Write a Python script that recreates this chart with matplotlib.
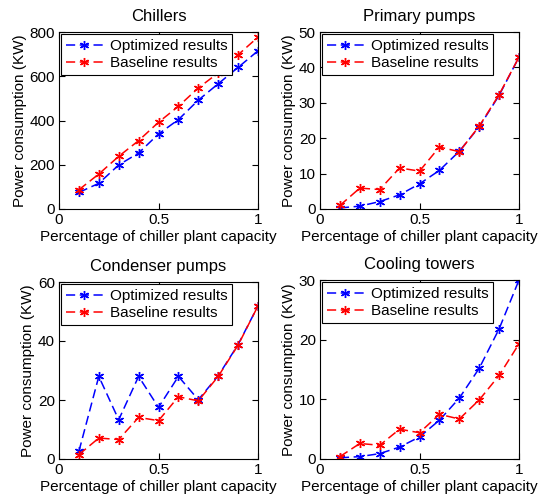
import matplotlib
matplotlib.use("Agg")
import matplotlib.pyplot as plt

plt.rcParams['font.family'] = ['Liberation Sans', 'DejaVu Sans']

x = [0.1, 0.2, 0.3, 0.4, 0.5, 0.6, 0.7, 0.8, 0.9, 1.0]

titles = ["Chillers", "Primary pumps", "Condenser pumps", "Cooling towers"]

chillers_opt = [75, 116, 199, 253, 339, 404, 492, 566, 640, 715]
chillers_base = [87, 158, 238, 309, 392, 464, 547, 615, 697, 777]

primary_opt = [0.3, 0.8, 2.1, 4.0, 7.1, 10.9, 16.3, 23.2, 32.1, 42.9]
primary_base = [1.0, 5.9, 5.5, 11.6, 10.7, 17.5, 16.2, 23.4, 32.3, 42.9]

condenser_opt = [2.6, 28.0, 13.3, 28.0, 17.5, 28.0, 20.1, 28.2, 38.8, 51.9]
condenser_base = [1.5, 7.1, 6.6, 14.1, 13.0, 21.1, 19.7, 28.0, 38.6, 51.9]

tower_opt = [0.2, 0.4, 0.9, 2.0, 3.7, 6.5, 10.2, 15.2, 21.8, 30.0]
tower_base = [0.4, 2.6, 2.3, 5.0, 4.4, 7.5, 6.7, 9.9, 14.0, 19.3]

ylims = [(0, 800), (0, 50), (0, 60), (0, 30)]
yticks = [[0, 200, 400, 600, 800], [0, 10, 20, 30, 40, 50], [0, 20, 40, 60], [0, 10, 20, 30]]
xticks = [0, 0.5, 1]
xticklabels = ["0", "0.5", "1"]

series = [(chillers_opt, chillers_base), (primary_opt, primary_base),
          (condenser_opt, condenser_base), (tower_opt, tower_base)]

W, H = 545, 499
fig = plt.figure(figsize=(W / 100, H / 100), dpi=100)

# axes boxes in pixels: left, top, right, bottom
boxes = [(59, 32, 258, 209), (320, 32, 519, 209),
         (59, 282, 258, 459), (320, 280, 519, 459)]

asterisk = (6, 2, 0)
fs = 11

for i, (l, t, r, b) in enumerate(boxes):
    ax = fig.add_axes([l / W, 1 - b / H, (r - l) / W, (b - t) / H])
    opt, base = series[i]
    ax.plot(x, opt, color='#0000ff', linestyle=(0, (6, 3)), linewidth=1.1,
            marker=asterisk, markersize=6.5, markeredgewidth=1.0, label='Optimized results')
    ax.plot(x, base, color='#ff0000', linestyle=(0, (6, 3)), linewidth=1.1,
            marker=asterisk, markersize=6.5, markeredgewidth=1.0, label='Baseline results')
    ax.set_xlim(0, 1)
    ax.set_ylim(*ylims[i])
    ax.set_xticks(xticks)
    ax.set_xticklabels(xticklabels)
    ax.set_yticks(yticks[i])
    ax.tick_params(direction='in', top=True, right=True, labelsize=fs, length=4, pad=3)
    ax.set_title(titles[i], fontsize=12, pad=8)
    ax.set_xlabel('Percentage of chiller plant capacity', fontsize=fs, labelpad=2)
    ax.set_ylabel('Power consumption (KW)', fontsize=fs, labelpad=2)
    for sp in ax.spines.values():
        sp.set_linewidth(0.8)
    leg = ax.legend(loc='upper left', fontsize=fs, fancybox=False, framealpha=1,
                    edgecolor='black', borderaxespad=0.15, handlelength=2.4,
                    borderpad=0.3, labelspacing=0.2, handletextpad=0.5)
    leg.get_frame().set_linewidth(0.8)

fig.savefig('out.png', dpi=100)
